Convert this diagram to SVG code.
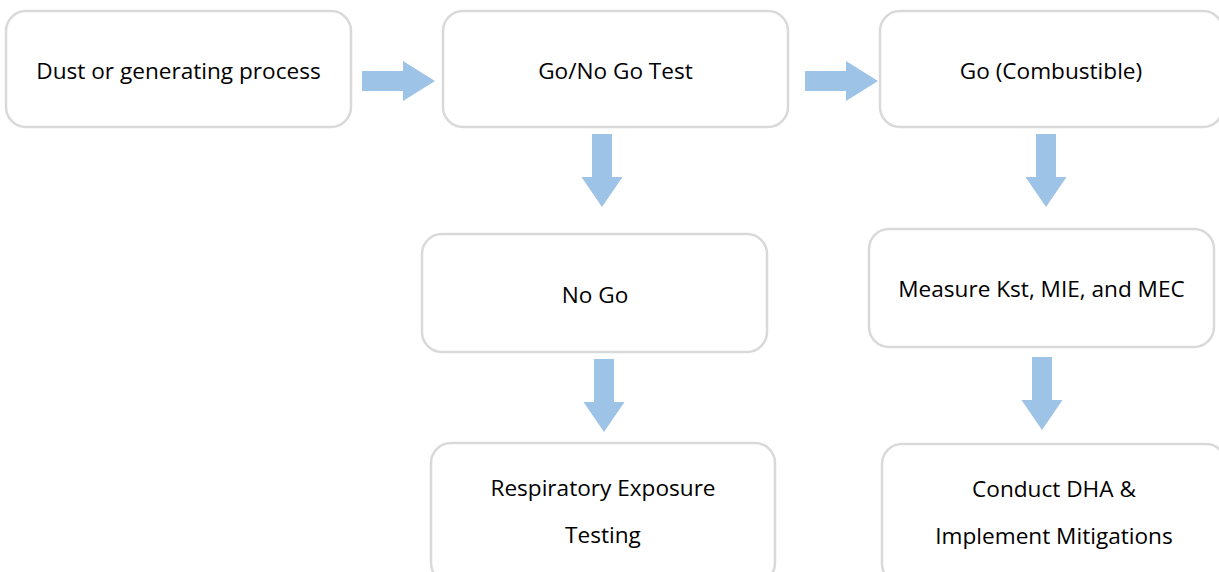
<svg xmlns="http://www.w3.org/2000/svg" width="1219" height="572" viewBox="0 0 1219 572">
  <style>
    .box { fill: #ffffff; stroke: #d9d9d9; stroke-width: 2.5; }
    .lbl { font-family: "Open Sans", "Noto Sans", "Liberation Sans", sans-serif; font-size: 22.6px; fill: #000000; text-anchor: middle; }
    .flow { fill: #9dc3e6; }
  </style>
  <defs>
    <!-- block arrows, drawn at the origin and placed with transforms -->
    <polygon id="arrow-right" points="0,-10 41,-10 41,-20 73,0 41,20 41,10 0,10"/>
    <polygon id="arrow-down" points="-10,0 10,0 10,43 20.5,43 0,73 -20.5,43 -10,43"/>
  </defs>
  <rect width="1219" height="572" fill="#ffffff"/>

  <g id="node-dust">
    <rect class="box" x="6" y="11" width="345" height="116" rx="20"/>
    <text class="lbl" x="178.5" y="79">Dust or generating process</text>
  </g>
  <g id="node-test">
    <rect class="box" x="443" y="11" width="345" height="116" rx="20"/>
    <text class="lbl" x="615.5" y="79">Go/No Go Test</text>
  </g>
  <g id="node-go">
    <rect class="box" x="880" y="11" width="343" height="116" rx="20"/>
    <text class="lbl" x="1051" y="79">Go (Combustible)</text>
  </g>
  <g id="node-nogo">
    <rect class="box" x="422" y="234" width="345" height="118" rx="20"/>
    <text class="lbl" x="595" y="303">No Go</text>
  </g>
  <g id="node-resp">
    <rect class="box" x="431" y="443" width="344" height="140" rx="20"/>
    <text class="lbl" x="603" y="496">Respiratory Exposure</text>
    <text class="lbl" x="603" y="543">Testing</text>
  </g>
  <g id="node-measure">
    <rect class="box" x="869" y="229" width="345" height="118" rx="20"/>
    <text class="lbl" x="1041.5" y="297">Measure Kst, MIE, and MEC</text>
  </g>
  <g id="node-dha">
    <rect class="box" x="882" y="444" width="344" height="140" rx="20"/>
    <text class="lbl" x="1054" y="497">Conduct DHA &amp;</text>
    <text class="lbl" x="1054" y="544">Implement Mitigations</text>
  </g>

  <g id="connectors" class="flow">
    <use href="#arrow-right" x="362" y="81"/>
    <use href="#arrow-right" x="805" y="81"/>
    <use href="#arrow-down" x="602" y="134"/>
    <use href="#arrow-down" x="604" y="359"/>
    <use href="#arrow-down" x="1046" y="134"/>
    <use href="#arrow-down" x="1042" y="357"/>
  </g>
</svg>
